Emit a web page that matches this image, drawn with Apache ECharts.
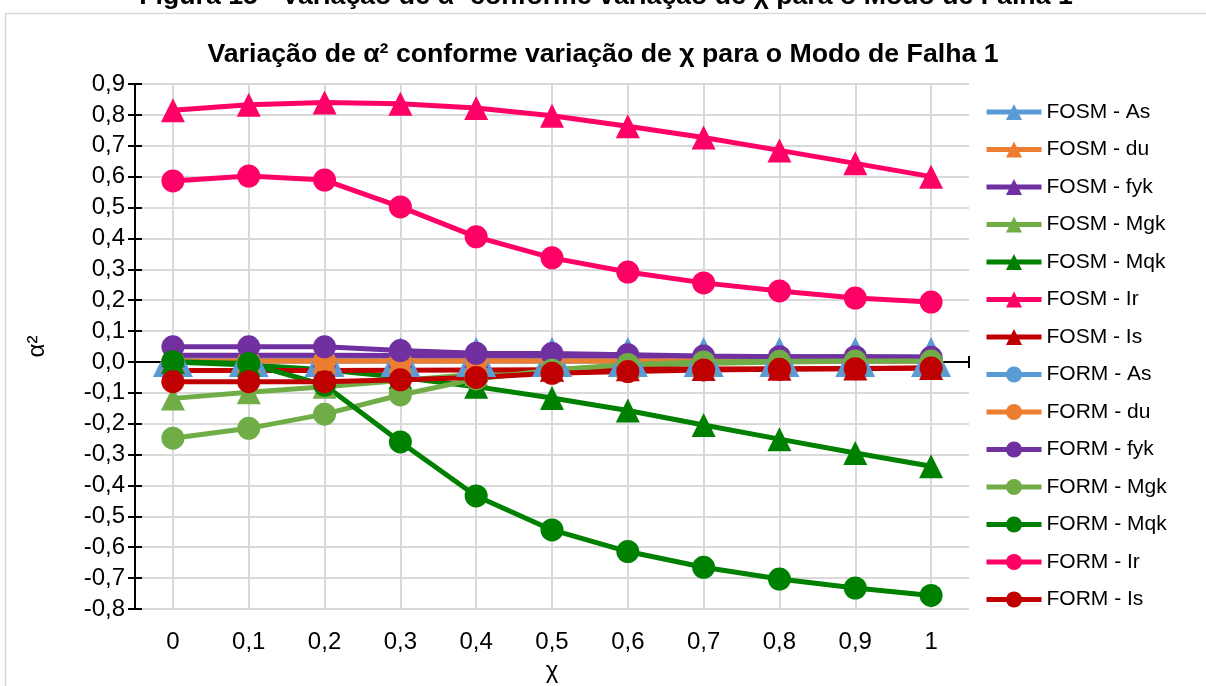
<!DOCTYPE html>
<html>
<head>
<meta charset="utf-8">
<script src="https://cdn.jsdelivr.net/npm/echarts@6/dist/echarts.min.js"></script>
<style>
  html, body { margin: 0; padding: 0; background: #ffffff; }
  #chart { width: 1206px; height: 686px; }
</style>
</head>
<body>
<div id="chart"></div>
<script>
// χ values along the category axis
const xLabels = ['0', '0,1', '0,2', '0,3', '0,4', '0,5', '0,6', '0,7', '0,8', '0,9', '1'];

// α² by variable – FOSM
const fosmAs  = [0.016, 0.016, 0.016, 0.016, 0.016, 0.016, 0.016, 0.016, 0.016, 0.016, 0.016];
const fosmDu  = [0.003, 0.003, 0.003, 0.003, 0.003, 0.003, 0.003, 0.003, 0.003, 0.003, 0.003];
const fosmFyk = [0.022, 0.022, 0.022, 0.021, 0.020, 0.019, 0.018, 0.017, 0.016, 0.016, 0.015];
const fosmMgk = [-0.118, -0.098, -0.080, -0.060, -0.040, -0.025, -0.012, -0.005, 0.000, 0.002, 0.003];
const fosmMqk = [0.000, -0.010, -0.025, -0.050, -0.080, -0.117, -0.157, -0.204, -0.250, -0.295, -0.338];
const fosmIr  = [0.815, 0.833, 0.840, 0.836, 0.822, 0.797, 0.763, 0.727, 0.685, 0.643, 0.600];
const fosmIs  = [-0.028, -0.028, -0.028, -0.027, -0.026, -0.025, -0.024, -0.023, -0.022, -0.021, -0.020];

// α² by variable – FORM
const formAs  = [0.003, 0.003, 0.003, 0.003, 0.003, 0.003, 0.003, 0.003, 0.003, 0.003, 0.003];
const formDu  = [0.003, 0.003, 0.003, 0.003, 0.003, 0.003, 0.003, 0.003, 0.003, 0.003, 0.003];
const formFyk = [0.049, 0.049, 0.049, 0.037, 0.028, 0.027, 0.023, 0.019, 0.017, 0.017, 0.015];
const formMgk = [-0.247, -0.215, -0.169, -0.107, -0.055, -0.026, -0.008, 0.000, 0.002, 0.003, 0.003];
const formMqk = [0.001, -0.005, -0.075, -0.259, -0.434, -0.544, -0.614, -0.665, -0.703, -0.732, -0.756];
const formIr  = [0.586, 0.602, 0.589, 0.502, 0.405, 0.337, 0.291, 0.256, 0.230, 0.207, 0.194];
const formIs  = [-0.064, -0.064, -0.064, -0.058, -0.050, -0.037, -0.031, -0.026, -0.024, -0.022, -0.020];

const FONT = '"Liberation Sans", Arial, sans-serif';

const COLORS = {
  As: '#5B9BD5', du: '#ED7D31', fyk: '#7030A0', Mgk: '#70AD47',
  Mqk: '#008000', Ir: '#FF0066', Is: '#C00000'
};

const seriesDefs = [
  ['FOSM - As', fosmAs, 'triangle', COLORS.As, 40],
  ['FOSM - du', fosmDu, 'triangle', COLORS.du, 24],
  ['FOSM - fyk', fosmFyk, 'triangle', COLORS.fyk, 24],
  ['FOSM - Mgk', fosmMgk, 'triangle', COLORS.Mgk, 24],
  ['FOSM - Mqk', fosmMqk, 'triangle', COLORS.Mqk, 24],
  ['FOSM - Ir', fosmIr, 'triangle', COLORS.Ir, 24],
  ['FOSM - Is', fosmIs, 'triangle', COLORS.Is, 24],
  ['FORM - As', formAs, 'circle', COLORS.As, 23],
  ['FORM - du', formDu, 'circle', COLORS.du, 23],
  ['FORM - fyk', formFyk, 'circle', COLORS.fyk, 23],
  ['FORM - Mgk', formMgk, 'circle', COLORS.Mgk, 23],
  ['FORM - Mqk', formMqk, 'circle', COLORS.Mqk, 23],
  ['FORM - Ir', formIr, 'circle', COLORS.Ir, 23],
  ['FORM - Is', formIs, 'circle', COLORS.Is, 23]
];

const series = seriesDefs.map(function (d) {
  return {
    name: d[0],
    type: 'line',
    xAxisIndex: 0,
    yAxisIndex: 0,
    data: d[1],
    symbol: d[2],
    symbolSize: d[4],
    showAllSymbol: true,
    lineStyle: { color: d[3], width: 5 },
    itemStyle: { color: d[3] },
    emphasis: { disabled: true },
    animation: false
  };
});

const chart = echarts.init(document.getElementById('chart'), null, { renderer: 'canvas' });

chart.setOption({
  backgroundColor: '#ffffff',
  animation: false,
  title: {
    text: 'Variação de α² conforme variação de χ para o Modo de Falha 1',
    left: 'center',
    top: 36,
    textStyle: { fontFamily: FONT, fontSize: 26.7, fontWeight: 'bold', color: '#000000' }
  },
  graphic: [
    {
      type: 'rect',
      shape: { x: 5.5, y: 13.5, width: 1220, height: 700 },
      style: { fill: null, stroke: '#D9D9D9', lineWidth: 1.5 },
      z: -10
    },
    {
      type: 'text',
      x: 606,
      y: -3,
      style: {
        text: 'Figura 15 - Variação de α² conforme variação de χ para o Modo de Falha 1',
        font: 'bold 26.7px ' + FONT,
        fill: '#000000',
        align: 'center',
        verticalAlign: 'middle'
      }
    }
  ],
  legend: {
    orient: 'vertical',
    left: 984,
    top: 101,
    padding: 0,
    itemWidth: 55,
    itemHeight: 20,
    itemGap: 15.5,
    lineStyle: { width: 5 },
    textStyle: { fontFamily: FONT, fontSize: 21, color: '#000000', lineHeight: 22, padding: [0, 0, 0, 0] },
    data: seriesDefs.map(function (d) { return d[0]; })
  },
  grid: {
    left: 135,
    right: 237,
    top: 84,
    bottom: 77,
    containLabel: false,
    outerBoundsMode: 'none'
  },
  xAxis: [
    {
      type: 'category',
      data: xLabels,
      boundaryGap: true,
      position: 'bottom',
      axisLine: { show: false, onZero: false },
      axisTick: { show: false },
      axisLabel: { fontFamily: FONT, fontSize: 24, color: '#000000', margin: 21, interval: 0 },
      splitLine: { show: true, interval: 0, alignWithLabel: true, lineStyle: { color: '#D9D9D9', width: 2 } },
      name: 'χ',
      nameLocation: 'middle',
      nameGap: 50,
      nameTextStyle: { fontFamily: FONT, fontSize: 24, color: '#000000' }
    },
    {
      // zero line with a cross mark at the far end
      type: 'category',
      data: xLabels,
      boundaryGap: true,
      position: 'bottom',
      axisLine: { show: true, onZero: true, onZeroAxisIndex: 0, lineStyle: { color: '#000000', width: 2 } },
      axisTick: { show: true, inside: false, length: 6, interval: function (i) { return i === 10; }, lineStyle: { color: '#000000', width: 2 } },
      axisLabel: { show: false },
      splitLine: { show: false }
    },
    {
      type: 'category',
      data: xLabels,
      boundaryGap: true,
      position: 'bottom',
      axisLine: { show: false, onZero: true, onZeroAxisIndex: 1 },
      axisTick: { show: true, inside: true, length: 6, interval: function (i) { return i === 10; }, lineStyle: { color: '#000000', width: 2 } },
      axisLabel: { show: false },
      splitLine: { show: false }
    }
  ],
  yAxis: [
    {
      type: 'value',
      min: -0.8,
      max: 0.9,
      interval: 0.1,
      position: 'left',
      axisLine: { show: true, onZero: false, lineStyle: { color: '#000000', width: 2 } },
      axisTick: { show: true, inside: false, length: 7, lineStyle: { color: '#000000', width: 2 } },
      axisLabel: {
        fontFamily: FONT, fontSize: 24, color: '#000000', margin: 10,
        formatter: function (v) { return v.toFixed(1).replace('.', ',').replace('-0,0', '0,0'); }
      },
      splitLine: { show: true, lineStyle: { color: '#D9D9D9', width: 2 } },
      name: 'α²',
      nameLocation: 'middle',
      nameGap: 86,
      nameRotate: 90,
      nameTextStyle: { fontFamily: FONT, fontSize: 24, color: '#000000' }
    },
    {
      type: 'value',
      min: -0.8,
      max: 0.9,
      interval: 0.1,
      position: 'left',
      axisLine: { show: false, onZero: false },
      axisTick: { show: true, inside: true, length: 7, lineStyle: { color: '#000000', width: 2 } },
      axisLabel: { show: false },
      splitLine: { show: false }
    }
  ],
  series: series
});
</script>
</body>
</html>
